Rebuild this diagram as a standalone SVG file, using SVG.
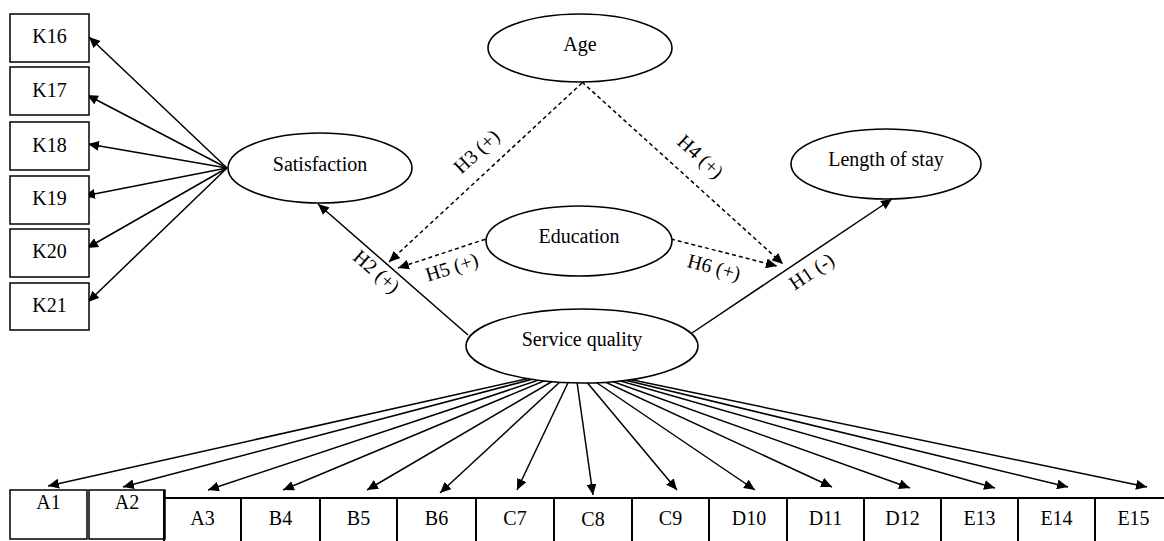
<svg xmlns="http://www.w3.org/2000/svg" width="1164" height="541" viewBox="0 0 1164 541">
<style>
.t{font-family:"Liberation Serif","Times New Roman",serif;font-size:20px;fill:#000;text-anchor:middle}
.lb{font-family:"Liberation Serif","Times New Roman",serif;font-size:20px;fill:#000;text-anchor:middle}
.n{fill:#fff;stroke:#000;stroke-width:1.6}
.b{fill:#fff;stroke:#000;stroke-width:1.5}
.c{fill:none;stroke:#000;stroke-width:1.5;marker-end:url(#ah)}
.d{fill:none;stroke:#000;stroke-width:1.5;stroke-dasharray:4 3;marker-end:url(#ah)}
.sep{stroke:#000;stroke-width:2}
</style>
<defs>
<marker id="ah" markerUnits="userSpaceOnUse" markerWidth="12" markerHeight="10" refX="11" refY="5" orient="auto">
<path d="M0,0 L11,5 L0,10 Z" fill="#000"/>
</marker>
</defs>
<rect width="1164" height="541" fill="#fff"/>
<g id="connectors">
<line class="c" x1="227" y1="168" x2="89" y2="37"/>
<line class="c" x1="227" y1="168" x2="87" y2="95"/>
<line class="c" x1="227" y1="168" x2="88" y2="144"/>
<line class="c" x1="227" y1="168" x2="84" y2="196"/>
<line class="c" x1="227" y1="168" x2="87" y2="248"/>
<line class="c" x1="227" y1="168" x2="88" y2="302"/>
<line class="c" x1="468" y1="335" x2="318" y2="204"/>
<line class="c" x1="692" y1="333" x2="892" y2="199"/>
<line class="d" x1="582" y1="83" x2="389" y2="262"/>
<line class="d" x1="492" y1="237" x2="398" y2="268"/>
<line class="d" x1="582" y1="82" x2="783" y2="264"/>
<line class="d" x1="671" y1="239" x2="777" y2="266"/>
<line class="c" x1="575" y1="368" x2="48" y2="486"/>
<line class="c" x1="575" y1="368" x2="123" y2="487"/>
<line class="c" x1="575" y1="368" x2="208" y2="490"/>
<line class="c" x1="575" y1="368" x2="283" y2="490"/>
<line class="c" x1="575" y1="368" x2="367" y2="490"/>
<line class="c" x1="575" y1="368" x2="440" y2="493"/>
<line class="c" x1="575" y1="368" x2="517" y2="490"/>
<line class="c" x1="575" y1="368" x2="593" y2="495"/>
<line class="c" x1="575" y1="368" x2="677" y2="490"/>
<line class="c" x1="575" y1="368" x2="755" y2="490"/>
<line class="c" x1="575" y1="368" x2="832" y2="487"/>
<line class="c" x1="575" y1="368" x2="910" y2="488"/>
<line class="c" x1="575" y1="368" x2="995" y2="488"/>
<line class="c" x1="575" y1="368" x2="1068" y2="487"/>
<line class="c" x1="575" y1="368" x2="1147" y2="487"/>
<text class="lb" transform="translate(376,272) rotate(41)" y="6">H2 (+)</text>
<text class="lb" transform="translate(477,152) rotate(-43)" y="6">H3 (+)</text>
<text class="lb" transform="translate(700,157) rotate(42.5)" y="6">H4 (+)</text>
<text class="lb" transform="translate(452,268) rotate(-17.5)" y="6">H5 (+)</text>
<text class="lb" transform="translate(714,268) rotate(15)" y="6">H6 (+)</text>
<text class="lb" transform="translate(812,272) rotate(-34)" y="6">H1 (-)</text>
</g>
<g id="age"><ellipse class="n" cx="580" cy="48" rx="92" ry="34"/><text class="t" x="580" y="51">Age</text></g>
<g id="satisfaction"><ellipse class="n" cx="320" cy="168" rx="92" ry="35"/><text class="t" x="320" y="171">Satisfaction</text></g>
<g id="education"><ellipse class="n" cx="579" cy="241" rx="93" ry="35"/><text class="t" x="579" y="243">Education</text></g>
<g id="length-of-stay"><ellipse class="n" cx="886" cy="164" rx="95" ry="35"/><text class="t" x="886" y="166">Length of stay</text></g>
<g id="service-quality"><ellipse class="n" cx="582" cy="346" rx="116" ry="37"/><text class="t" x="582" y="346">Service quality</text></g>
<g id="K16"><rect class="b" x="10" y="14" width="79" height="48"/><text class="t" x="49.5" y="43">K16</text></g>
<g id="K17"><rect class="b" x="10" y="67" width="79" height="48"/><text class="t" x="49.5" y="97">K17</text></g>
<g id="K18"><rect class="b" x="10" y="122" width="79" height="48"/><text class="t" x="49.5" y="152">K18</text></g>
<g id="K19"><rect class="b" x="10" y="176" width="79" height="48"/><text class="t" x="49.5" y="205">K19</text></g>
<g id="K20"><rect class="b" x="10" y="229" width="79" height="48"/><text class="t" x="49.5" y="258">K20</text></g>
<g id="K21"><rect class="b" x="10" y="283" width="79" height="47"/><text class="t" x="49.5" y="312">K21</text></g>
<g id="A1"><rect class="b" x="10" y="490" width="77" height="49"/><text class="t" x="48.5" y="509">A1</text></g>
<g id="A2"><rect class="b" x="89" y="490" width="76" height="49"/><text class="t" x="127" y="509">A2</text></g>
<g id="row">
<line class="sep" x1="164" y1="498" x2="1164" y2="498"/>
<line class="sep" x1="164" y1="490" x2="164" y2="541"/>
<line class="sep" x1="241" y1="498" x2="241" y2="541"/>
<line class="sep" x1="320" y1="498" x2="320" y2="541"/>
<line class="sep" x1="397" y1="498" x2="397" y2="541"/>
<line class="sep" x1="476" y1="498" x2="476" y2="541"/>
<line class="sep" x1="554" y1="498" x2="554" y2="541"/>
<line class="sep" x1="632" y1="498" x2="632" y2="541"/>
<line class="sep" x1="709" y1="498" x2="709" y2="541"/>
<line class="sep" x1="787" y1="498" x2="787" y2="541"/>
<line class="sep" x1="864" y1="498" x2="864" y2="541"/>
<line class="sep" x1="941" y1="498" x2="941" y2="541"/>
<line class="sep" x1="1018" y1="498" x2="1018" y2="541"/>
<line class="sep" x1="1095" y1="498" x2="1095" y2="541"/>
</g>
<g id="A3"><text class="t" x="202.5" y="525">A3</text></g>
<g id="B4"><text class="t" x="280.5" y="525">B4</text></g>
<g id="B5"><text class="t" x="358.5" y="525">B5</text></g>
<g id="B6"><text class="t" x="436.5" y="525">B6</text></g>
<g id="C7"><text class="t" x="515" y="525">C7</text></g>
<g id="C8"><text class="t" x="593" y="526">C8</text></g>
<g id="C9"><text class="t" x="670.5" y="525">C9</text></g>
<g id="D10"><text class="t" x="749" y="525">D10</text></g>
<g id="D11"><text class="t" x="825.5" y="525">D11</text></g>
<g id="D12"><text class="t" x="902.5" y="525">D12</text></g>
<g id="E13"><text class="t" x="979.5" y="525">E13</text></g>
<g id="E14"><text class="t" x="1056.5" y="525">E14</text></g>
<g id="E15"><text class="t" x="1133.5" y="525">E15</text></g>
</svg>
